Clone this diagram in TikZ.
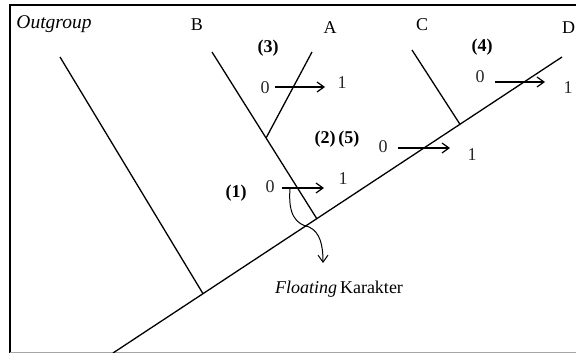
\documentclass[tikz,border=0pt]{standalone}
\usepackage{fontspec}
\setmainfont{Liberation Serif}
\usetikzlibrary{arrows.meta,calc}
\begin{document}
\begin{tikzpicture}[x=1pt,y=-1pt,
  branch/.style={line width=1.3pt},
  chg/.style={line width=1.2pt,-{Straight Barb[length=7pt,width=10pt,line width=1.2pt]}},
  lbl/.style={inner sep=0pt,font=\fontsize{18}{20}\selectfont},
  num/.style={inner sep=0pt,font=\fontsize{18}{20}\selectfont,text=black!85},
  lblb/.style={inner sep=0pt,font=\fontsize{18}{20}\selectfont\bfseries}]
\useasboundingbox (0,0) rectangle (576,353);
% frame
\draw[line width=2pt] (10,353) -- (10,5) -- (580,5);
\draw[black!35,line width=1pt] (10,352.5) -- (580,352.5);
% tree coordinates
\coordinate (root) at (113,353);
\coordinate (top) at (562,57);
\coordinate (jO) at (203,293.7);
\coordinate (jB) at (317,219);
\coordinate (jC) at (460,124.3);
\coordinate (tO) at (60,57);
\coordinate (tB) at (212,52);
\coordinate (tA) at (312,52);
\coordinate (tC) at (412,50);
\coordinate (jA) at ($(tB)!0.515!(jB)$);
\draw[branch] (root) -- (top);
\draw[branch] (tO) -- (jO);
\draw[branch] (tB) -- (jB);
\draw[branch] (tC) -- (jC);
\draw[branch] (tA) -- (jA);
% taxa
\node[lbl,font=\fontsize{19.5}{22}\selectfont\itshape] (og) at (54,24) {Outgroup};
\node[lbl] (B) at (197,25) {B};
\node[lbl] (A) at (330,28) {A};
\node[lbl] (C) at (422,25) {C};
\node[lbl] (D) at (568.5,28) {D};
% character (3)
\node[lblb] (c3) at (268,48) {(3)};
\node[num] (z3) at (265,88) {0};
\node[num] (o3) at (342,83) {1};
\coordinate (a3s) at (275,87);
\coordinate (a3e) at (325,87);
\draw[chg] (a3s) -- (a3e);
% character (4)
\node[lblb] (c4) at (482,47) {(4)};
\node[num] (z4) at (480,77) {0};
\node[num] (o4) at (568,88) {1};
\coordinate (a4s) at (495,82);
\coordinate (a4e) at (545,82);
\draw[chg] (a4s) -- (a4e);
% characters (2)(5)
\node[lblb] (c25) at (337,139) {(2)\,(5)};
\node[num] (z25) at (383,147) {0};
\node[num] (o25) at (472,155) {1};
\coordinate (a25s) at (398,148);
\coordinate (a25e) at (450,148);
\draw[chg] (a25s) -- (a25e);
% character (1)
\node[lblb] (c1) at (236,193) {(1)};
\node[num] (z1) at (270,187) {0};
\node[num] (o1) at (343,179) {1};
\coordinate (a1s) at (282,188);
\coordinate (a1e) at (324,188);
\draw[chg] (a1s) -- (a1e);
% floating arrow
\coordinate (fs) at (290,189);
\coordinate (fe) at (323,263);
\draw[line width=1pt,-{Straight Barb[length=7pt,width=10pt,line width=1pt]}]
  (fs) .. controls (288,215) and (296,224) .. (309,227)
       .. controls (320,232) and (323,245) .. (fe);
\node[lbl,anchor=base] (fk) at (339,293) {\textit{Floating}\,Karakter};
\end{tikzpicture}
\end{document}
